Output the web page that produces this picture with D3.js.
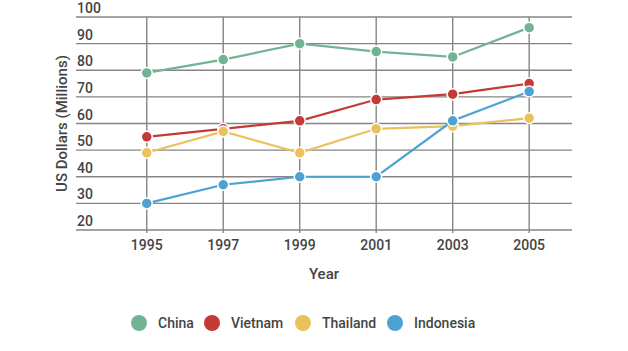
<!DOCTYPE html>
<html lang="en">
  <head>
    <meta charset="UTF-8" />
    <title>US Dollars by country</title>
    <script src="https://d3js.org/d3.v7.min.js"></script>
    <style>
      body { margin: 0; background: #fff; }
      text { font-family: Roboto, "Noto Sans", sans-serif; fill: #444; font-weight: 500; }
    </style>
  </head>
  <body>
    <svg width="628" height="351"></svg>
    <script>
      // data
      const years = [1995, 1997, 1999, 2001, 2003, 2005];
      const china = [79, 84, 90, 87, 85, 96];
      const vietnam = [55, 58, 61, 69, 71, 75];
      const thailand = [49, 57, 49, 58, 59, 62];
      const indonesia = [30, 37, 40, 40, 61, 72];
      const yTicks = [20, 30, 40, 50, 60, 70, 80, 90, 100];
      const names = ["China", "Vietnam", "Thailand", "Indonesia"];
      const colors = ["#72b394", "#c23b35", "#e9c25e", "#4ea2d2"];

      const series = [china, vietnam, thailand, indonesia].map((v, i) => ({
        name: names[i],
        color: colors[i],
        values: v.map((d, j) => ({ year: years[j], value: d })),
      }));

      const svg = d3.select("svg");
      const plotLeft = 76, plotRight = 572, plotTop = 17, plotBottom = 230;

      const x = d3.scaleLinear().domain([1993.15, 2006.12]).range([plotLeft, plotRight]);
      const y = d3.scaleLinear().domain([20, 100]).range([plotBottom, plotTop]);

      // horizontal grid + y labels
      svg.append("g")
        .selectAll("line")
        .data(yTicks)
        .join("line")
        .attr("x1", plotLeft)
        .attr("x2", plotRight)
        .attr("y1", (d) => y(d))
        .attr("y2", (d) => y(d))
        .attr("stroke", "#858585")
        .attr("stroke-width", 1.4);

      svg.append("g")
        .selectAll("text")
        .data(yTicks)
        .join("text")
        .attr("x", plotLeft + 1)
        .attr("y", (d) => y(d) - 4)
        .attr("font-size", 14)
        .text((d) => d);

      // vertical grid + x labels
      svg.append("g")
        .selectAll("line")
        .data(years)
        .join("line")
        .attr("x1", (d) => x(d))
        .attr("x2", (d) => x(d))
        .attr("y1", plotTop)
        .attr("y2", plotBottom + 3)
        .attr("stroke", "#858585")
        .attr("stroke-width", 1.4);

      svg.append("g")
        .selectAll("text")
        .data(years)
        .join("text")
        .attr("x", (d) => x(d))
        .attr("y", 250)
        .attr("text-anchor", "middle")
        .attr("font-size", 14)
        .text((d) => d);

      // axis titles
      svg.append("text")
        .attr("x", (plotLeft + plotRight) / 2)
        .attr("y", 279)
        .attr("text-anchor", "middle")
        .attr("font-size", 15)
        .text("Year");

      svg.append("text")
        .attr("transform", "translate(67," + (plotTop + plotBottom) / 2 + ") rotate(-90)")
        .attr("text-anchor", "middle")
        .attr("font-size", 15)
        .text("US Dollars (Millions)");

      // lines
      const line = d3.line().x((d) => x(d.year)).y((d) => y(d.value));

      const g = svg.append("g")
        .selectAll("g")
        .data(series)
        .join("g");

      g.append("path")
        .attr("d", (s) => line(s.values))
        .attr("fill", "none")
        .attr("stroke", (s) => s.color)
        .attr("stroke-width", 2.2);

      g.selectAll("circle")
        .data((s) => s.values.map((v) => ({ ...v, color: s.color })))
        .join("circle")
        .attr("cx", (d) => x(d.year))
        .attr("cy", (d) => y(d.value))
        .attr("r", 5.5)
        .attr("fill", (d) => d.color)
        .attr("stroke", "#fff")
        .attr("stroke-width", 1.5);

      // legend
      const legendX = [139, 212, 303, 395];
      const legend = svg.append("g")
        .selectAll("g")
        .data(series)
        .join("g")
        .attr("transform", (d, i) => "translate(" + legendX[i] + ",323)");

      legend.append("circle")
        .attr("r", 8)
        .attr("fill", (d) => d.color);

      legend.append("text")
        .attr("x", 19)
        .attr("y", 5)
        .attr("font-size", 14)
        .text((d) => d.name);
    </script>
  </body>
</html>
